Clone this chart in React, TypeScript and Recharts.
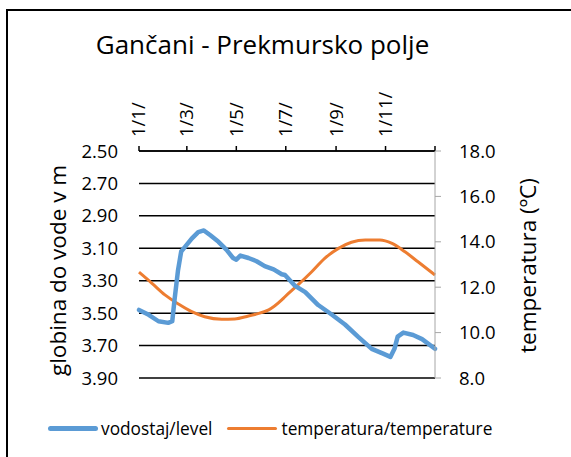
import { LineChart, Line, XAxis, YAxis, CartesianGrid } from 'recharts';

// day of year for each reading
const levelDays = [0, 12, 24, 36, 41, 44, 48, 52, 57, 65, 73, 80, 88, 98, 108, 116, 120, 125, 135, 145, 155, 166, 176, 180, 192, 205, 221, 238, 254, 270, 287, 301, 310, 315, 319, 326, 338, 349, 365];
const levelValues = [3.48, 3.51, 3.55, 3.56, 3.55, 3.41, 3.24, 3.12, 3.09, 3.04, 3.0, 2.99, 3.02, 3.06, 3.11, 3.16, 3.17, 3.145, 3.16, 3.18, 3.21, 3.23, 3.26, 3.265, 3.33, 3.37, 3.45, 3.51, 3.57, 3.645, 3.72, 3.75, 3.77, 3.72, 3.645, 3.62, 3.635, 3.66, 3.72];

const tempDays = [0, 16, 32, 49, 65, 81, 102, 118, 135, 143, 160, 176, 180, 196, 213, 229, 246, 262, 279, 297, 312, 328, 344, 365];
const tempValues = [12.66, 12.17, 11.66, 11.25, 10.92, 10.7, 10.59, 10.6, 10.73, 10.8, 11.0, 11.44, 11.58, 12.1, 12.68, 13.27, 13.71, 13.98, 14.08, 14.08, 13.93, 13.56, 13.12, 12.54];

const monthTicks = [0, 59, 120, 181, 243, 304, 365];
const monthLabels = ['1/1/', '1/3/', '1/5/', '1/7/', '1/9/', '1/11/', ''];
const levelTicks = [2.5, 2.7, 2.9, 3.1, 3.3, 3.5, 3.7, 3.9];
const tempTicks = [8, 10, 12, 14, 16, 18];

const BLUE = '#5B9BD5';
const ORANGE = '#ED7D31';
const FONT = '"Open Sans", sans-serif';

const levelData = levelDays.map((day, i) => ({ day, level: levelValues[i] }));
const tempData = tempDays.map((day, i) => ({ day, temp: tempValues[i] }));

function MonthTick({ x, y, payload }: any) {
  const label = monthLabels[monthTicks.indexOf(payload.value)] ?? '';
  return (
    <text x={x} y={y} transform={`rotate(-90 ${x} ${y})`} textAnchor="start" dy="0.35em" fontSize={18.5} fill="#000" fontFamily={FONT}>
      {label}
    </text>
  );
}

function AxisTitle({ viewBox, text, dx, dy }: any) {
  const cx = viewBox.x + dx;
  const cy = viewBox.y + viewBox.height / 2 + dy;
  return (
    <text x={cx} y={cy} transform={`rotate(-90 ${cx} ${cy})`} textAnchor="middle" dominantBaseline="central" fontSize={22.5} fill="#000" fontFamily={FONT}>
      {text}
    </text>
  );
}

export default function App() {
  return (
    <div style={{ position: 'fixed', left: 0, top: 0, width: 571, height: 457, overflow: 'hidden', background: '#fff', fontFamily: FONT }}>
      <div style={{ position: 'absolute', left: 6, top: 9, width: 600, height: 500, border: '2px solid #000' }} />
      <div style={{ position: 'absolute', left: 0, top: 27, width: 525, textAlign: 'center', fontSize: 26, lineHeight: '35px', color: '#000' }}>
        Gančani - Prekmursko polje
      </div>
      <LineChart width={571} height={457} margin={{ top: 0, right: 0, bottom: 79, left: 0 }} style={{ position: 'absolute', left: 0, top: 0 }}>
        <CartesianGrid vertical={false} yAxisId="left" stroke="#000" strokeWidth={1.5} />
        <XAxis
          dataKey="day"
          type="number"
          orientation="top"
          domain={[0, 365]}
          ticks={monthTicks}
          height={151}
          tickSize={5}
          tickMargin={9}
          axisLine={{ stroke: '#000', strokeWidth: 1.5 }}
          tickLine={{ stroke: '#000', strokeWidth: 1.5 }}
          tick={<MonthTick />}
          interval={0}
        />
        <YAxis
          yAxisId="left"
          orientation="left"
          reversed
          domain={[2.5, 3.9]}
          ticks={levelTicks}
          width={139}
          axisLine={false}
          tickLine={false}
          tickSize={6}
          tickMargin={15}
          interval={0}
          tickFormatter={(v: number) => v.toFixed(2)}
          tick={{ fontSize: 18.5, fill: '#000', fontFamily: FONT }}
          label={<AxisTitle text="globina do vode v m" dx={57} dy={6} />}
        />
        <YAxis
          yAxisId="right"
          orientation="right"
          domain={[8, 18]}
          ticks={tempTicks}
          width={136}
          axisLine={{ stroke: '#A6A6A6' }}
          tickLine={{ stroke: '#A6A6A6' }}
          tickSize={6}
          tickMargin={18}
          interval={0}
          tickFormatter={(v: number) => v.toFixed(1)}
          tick={{ fontSize: 18.5, fill: '#000', fontFamily: FONT }}
          label={<AxisTitle text="temperatura (ºC)" dx={92} dy={1} />}
        />
        <Line
          yAxisId="right"
          data={tempData}
          dataKey="temp"
          type="monotone"
          stroke={ORANGE}
          strokeWidth={3}
          dot={false}
          isAnimationActive={false}
        />
        <Line
          yAxisId="left"
          data={levelData}
          dataKey="level"
          type="linear"
          stroke={BLUE}
          strokeWidth={4.5}
          strokeLinecap="round"
          strokeLinejoin="round"
          dot={false}
          isAnimationActive={false}
        />
      </LineChart>
      <div style={{ position: 'absolute', left: 48, top: 416, height: 24, display: 'flex', alignItems: 'center', fontSize: 17.3, color: '#000' }}>
        <span style={{ display: 'inline-block', width: 50, height: 5, borderRadius: 3, background: BLUE, marginRight: 3 }} />
        <span>vodostaj/level</span>
        <span style={{ display: 'inline-block', width: 50, height: 3, borderRadius: 2, background: ORANGE, marginLeft: 15, marginRight: 4 }} />
        <span>temperatura/temperature</span>
      </div>
    </div>
  );
}
